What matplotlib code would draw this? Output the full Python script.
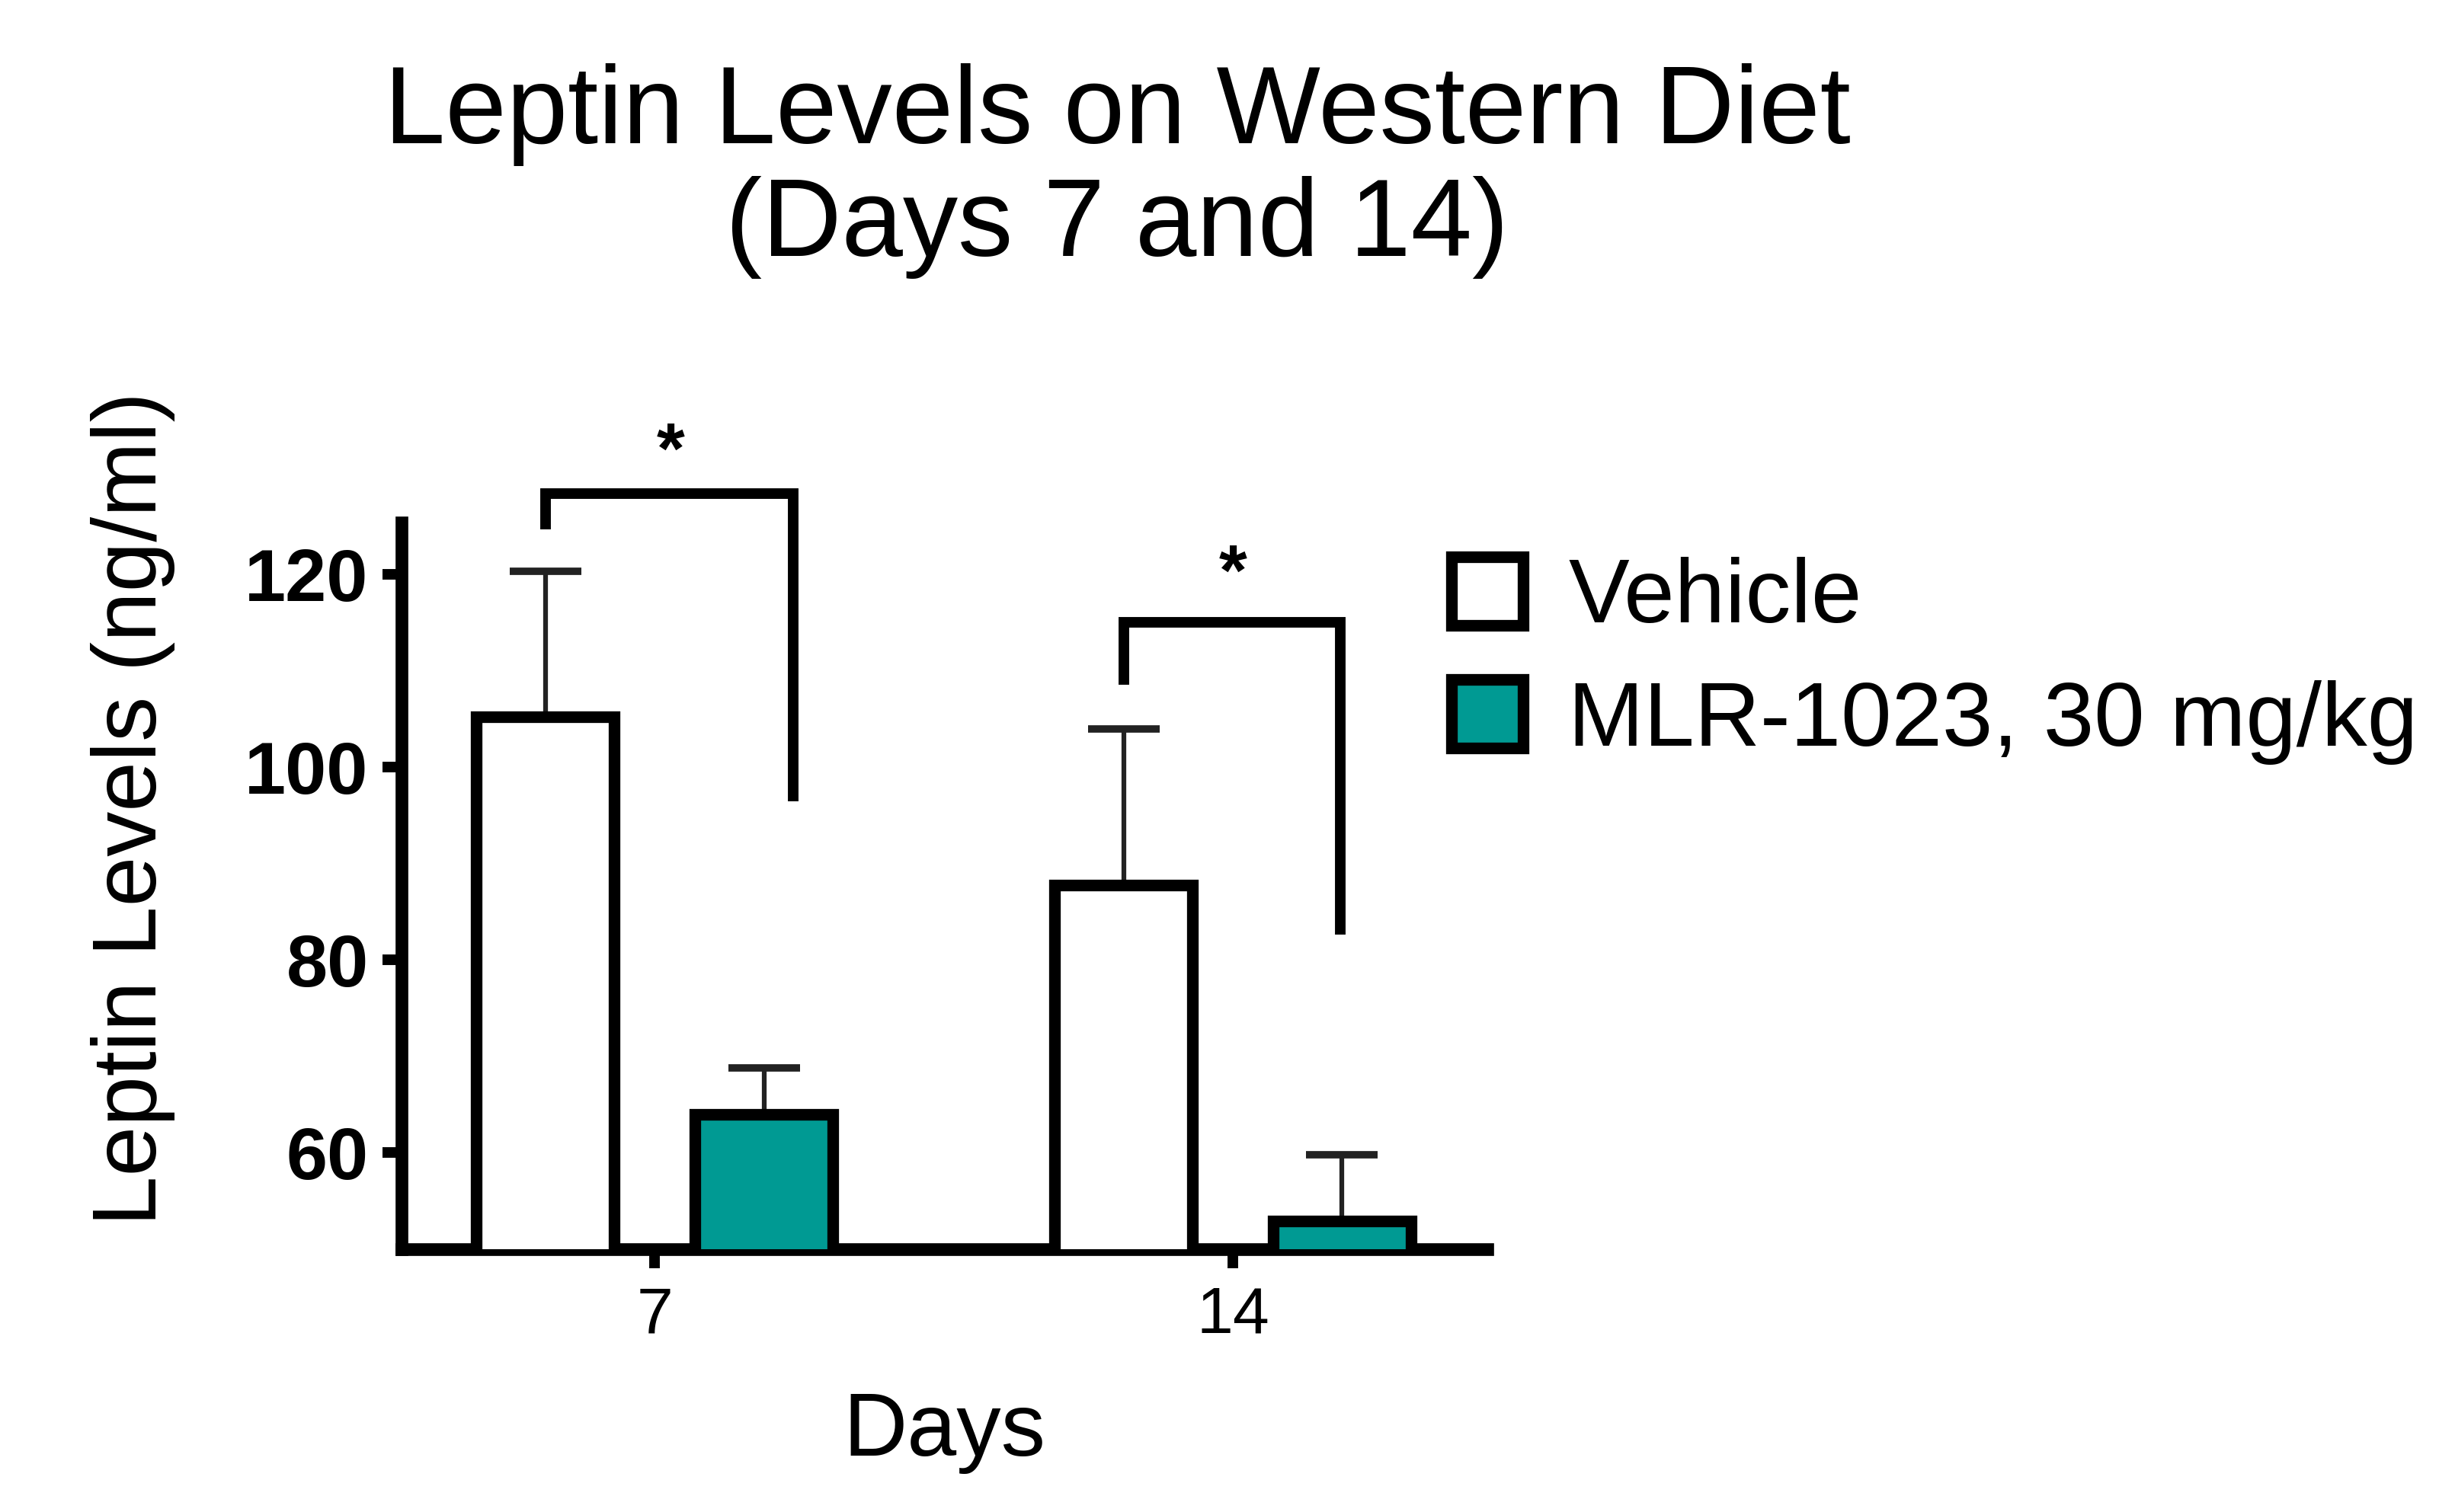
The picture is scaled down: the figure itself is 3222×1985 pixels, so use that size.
import matplotlib
matplotlib.use('Agg')
import matplotlib.pyplot as plt
import numpy as np

plt.rcParams['font.family'] = ['Liberation Sans', 'DejaVu Sans']

days = ['7', '14']
groups = ['Vehicle', 'MLR-1023, 30 mg/kg']
vehicle_mean = [105.2, 87.8]
vehicle_err = [15.1, 16.2]
mlr_mean = [64.0, 52.9]
mlr_err = [4.8, 6.9]
colors = ['white', '#009A93']
sig_marks = ['*', '*']

x = np.arange(len(days))
off = 0.189
w = 0.238

fig = plt.figure(figsize=(32.22, 19.85), dpi=100)
ax = fig.add_axes([0.1635, 0.1738, 0.4423, 0.4807])

lw = 11
for i, (means, errs) in enumerate([(vehicle_mean, vehicle_err), (mlr_mean, mlr_err)]):
    pos = x - off if i == 0 else x + off
    ax.errorbar(pos, means, yerr=[np.zeros(len(errs)), errs], fmt='none',
                ecolor='#222222', elinewidth=4.5, capsize=34, capthick=7, zorder=2)
    ax.bar(pos, means, width=w, color=colors[i], edgecolor='black',
           linewidth=lw, label=groups[i], zorder=3)

# significance brackets
brackets = [
    # left x, right x, left bottom, top, right bottom
    (x[0] - off, x[0] + 0.24, 125.2, 128.4, 97.0),
    (x[1] - off, x[1] + 0.186, 109.1, 115.0, 83.2),
]
star_x = [x[0] + 0.027, x[1]]
star_y = [129.0, 116.3]
for (xl, xr, yl, yt, yr), sx, sy, m in zip(brackets, star_x, star_y, sig_marks):
    ax.plot([xl, xl, xr, xr], [yl, yt, yt, yr], color='black', lw=10,
            solid_joinstyle='miter', clip_on=False, zorder=4)
    ax.text(sx, sy, m, ha='center', va='bottom', fontsize=68,
            fontweight='bold', clip_on=False)

ax.set_xlim(-0.438, 1.44)
ax.set_ylim(50, 125.4)
ax.set_yticks([60, 80, 100, 120])
ax.set_xticks(x)
ax.set_xticklabels(days, fontsize=62)
for lab in ax.get_yticklabels():
    lab.set_fontsize(70)
    lab.set_fontweight('bold')

for s in ['top', 'right']:
    ax.spines[s].set_visible(False)
for s in ['left', 'bottom']:
    ax.spines[s].set_linewidth(12)
ax.tick_params(axis='y', width=10, length=18, pad=13)
ax.tick_params(axis='x', width=10, length=18, pad=16)

ax.set_xlabel('Days', fontsize=84, labelpad=42)
ax.set_ylabel('Leptin Levels (ng/ml)', fontsize=85)
ax.yaxis.set_label_coords(-0.208, 0.606)

fig.text(0.455, 0.958, 'Leptin Levels on Western Diet\n(Days 7 and 14)',
         ha='center', va='top', fontsize=104, linespacing=1.12)

ax.legend(loc='upper left', bbox_to_anchor=(0.558, 0.686), bbox_transform=fig.transFigure,
          frameon=False, fontsize=86, handlelength=0.78, handleheight=0.78,
          handletextpad=0.5, labelspacing=0.42)

fig.savefig('out.png', dpi=100, facecolor='white')
